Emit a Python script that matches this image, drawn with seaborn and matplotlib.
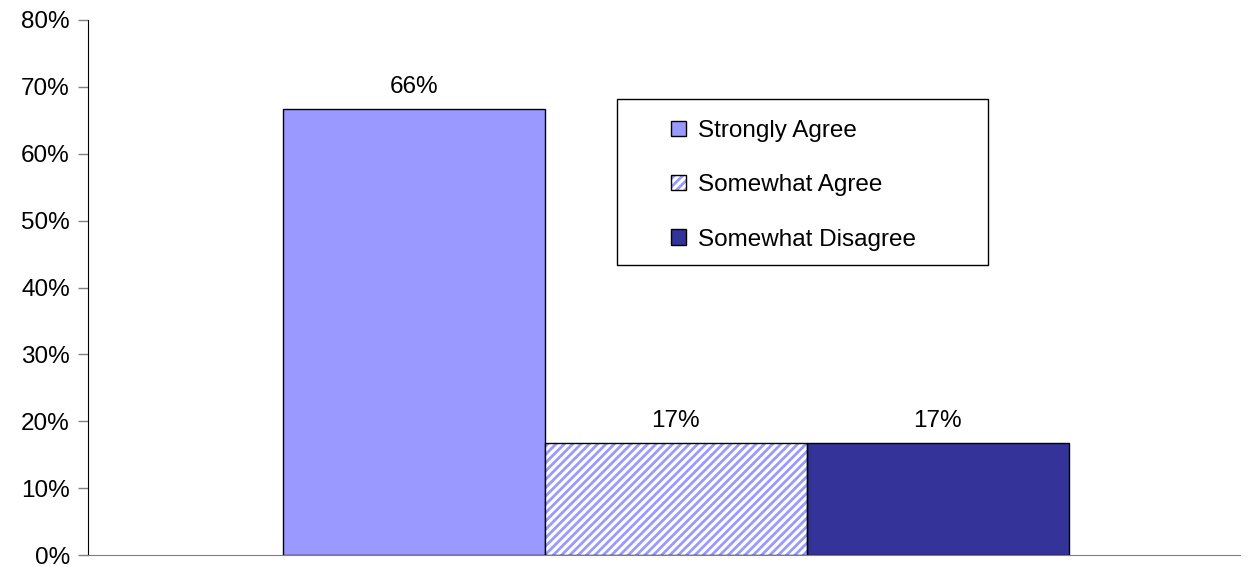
import pandas as pd
import numpy as np
import matplotlib.pyplot as plt
import seaborn as sns
from matplotlib.patches import Patch, Rectangle
from matplotlib.ticker import PercentFormatter

sns.set_style("white")
plt.rcParams['font.family'] = ['Liberation Sans', 'DejaVu Sans']
plt.rcParams['hatch.linewidth'] = 2.0
plt.rcParams['text.color'] = 'black'

categories = ["Strongly Agree", "Somewhat Agree", "Somewhat Disagree"]
values = [66.7, 16.7, 16.7]
bar_labels = ["66%", "17%", "17%"]
colors = ["#9999FF", "#9999FF", "#333399"]

FS = 17.5

df = pd.DataFrame({"group": ["all"] * 3, "response": categories, "pct": values})

fig = plt.figure(figsize=(12.52, 5.67), dpi=100)
ax = fig.add_axes([88 / 1252, 12 / 567, (1240 - 88) / 1252, (555 - 20) / 567])

sns.barplot(data=df, x="group", y="pct", hue="response", hue_order=categories,
            palette=colors, saturation=1, width=0.8, edgecolor="black",
            linewidth=1, legend=False, ax=ax)

bars = list(ax.patches)
# middle bar: light stripes on white
hb = bars[1]
hb.set_facecolor("white")
hb.set_edgecolor(colors[1])
hb.set_hatch("////")
hb.set_linewidth(0)
ax.add_patch(Rectangle((hb.get_x(), hb.get_y()), hb.get_width(), hb.get_height(),
                       fill=False, edgecolor="black", linewidth=1, zorder=3))

for b, lab in zip(bars, bar_labels):
    ax.annotate(lab, (b.get_x() + b.get_width() / 2, b.get_height()),
                xytext=(0, 8), textcoords="offset points",
                ha="center", va="bottom", fontsize=FS, color="black")

ax.set_xlim(-0.598, 0.574)
ax.set_ylim(0, 80)
ax.set_yticks(np.arange(0, 81, 10))
ax.yaxis.set_major_formatter(PercentFormatter(decimals=0))
ax.set_xticks([])
ax.set_xlabel("")
ax.set_ylabel("")
ax.tick_params(axis="y", labelsize=FS, labelcolor="black", left=True,
               length=7, color="#808080", width=1, pad=6)

for s in ["top", "right"]:
    ax.spines[s].set_visible(False)
ax.spines["left"].set_color("black")
ax.spines["bottom"].set_color("#808080")

# legend box
x0, x1 = (617 - 88) / 1152, (988 - 88) / 1152
y0, y1 = (555 - 265) / 535, (555 - 99) / 535
ax.add_patch(Rectangle((x0, y0), x1 - x0, y1 - y0, transform=ax.transAxes,
                       facecolor="white", edgecolor="black", linewidth=1,
                       zorder=4, clip_on=False))

handles = [
    Patch(facecolor=colors[0], edgecolor="black", linewidth=1),
    (Patch(facecolor="white", edgecolor=colors[1], hatch="////", linewidth=0),
     Patch(fill=False, edgecolor="black", linewidth=1)),
    Patch(facecolor=colors[2], edgecolor="black", linewidth=1),
]
leg = ax.legend(handles, categories, loc="upper left",
                bbox_to_anchor=((671 - 88) / 1152, (555 - 120) / 535),
                fontsize=FS, frameon=False,
                handlelength=0.6, handleheight=0.6, handletextpad=0.5,
                labelspacing=1.33, borderpad=0, borderaxespad=0)
leg.set_zorder(5)

plt.savefig("out.png", dpi=100)
